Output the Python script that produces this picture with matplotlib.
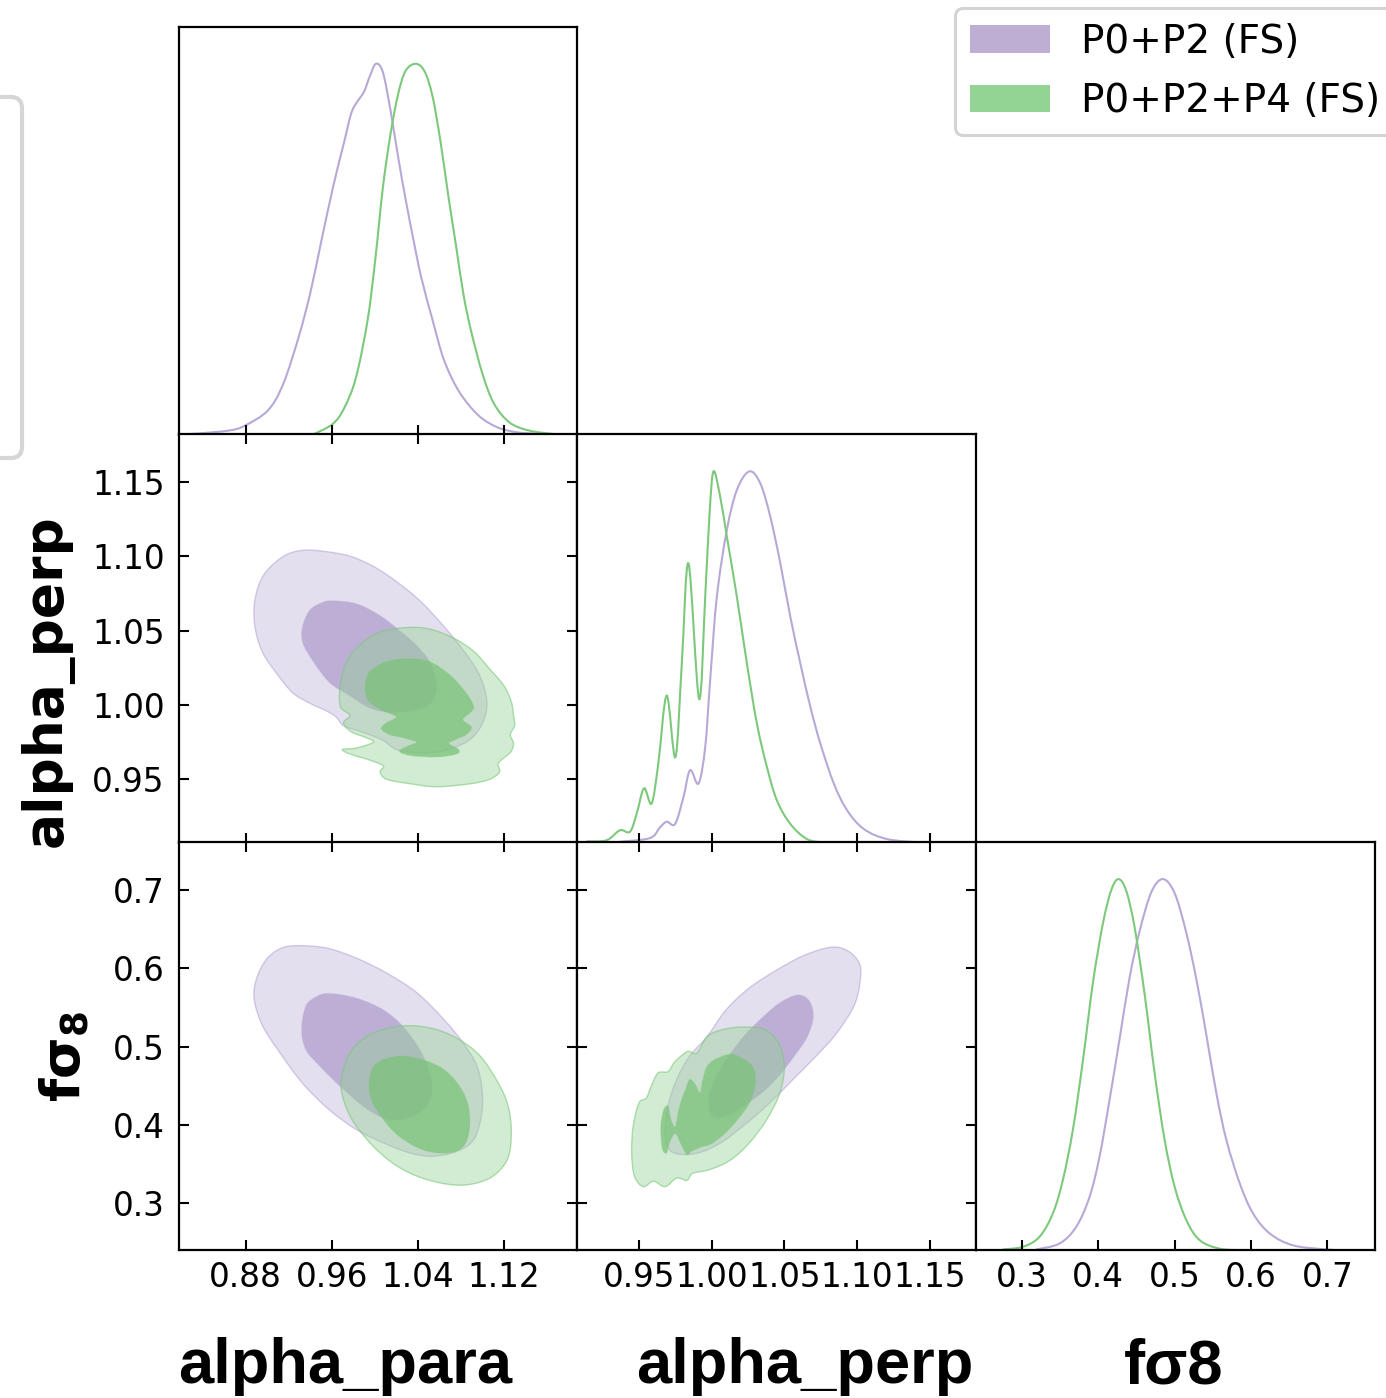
import matplotlib
matplotlib.use("Agg")
import matplotlib.pyplot as plt
import numpy as np
from matplotlib.path import Path
from matplotlib.patches import PathPatch, Patch, FancyBboxPatch

# corner plot: alpha_para, alpha_perp, f sigma8 for two fits

W, H = 1386, 1398

labels = ["P0+P2 (FS)", "P0+P2+P4 (FS)"]
line_colors = ["#b8a8d6", "#7cc97c"]
legend_colors = ["#bfaed4", "#93d394"]

# axis ranges and ticks
para_lim = (0.8176, 1.1882)
perp_lim = (0.9075, 1.1819)
fs8_lim = (0.2398, 0.7615)
para_ticks = [0.88, 0.96, 1.04, 1.12]
perp_ticks = [0.95, 1.00, 1.05, 1.10, 1.15]
fs8_ticks = [0.3, 0.4, 0.5, 0.6, 0.7]

# 1D marginals (normalised to peak = 1)
para_x_a = [0.8187, 0.8365, 0.865, 0.8793, 0.9007, 0.9149, 0.9292, 0.9399, 0.9505, 0.9612,
            0.9719, 0.9791, 0.9897, 0.9951, 1.0011, 1.0076, 1.0147, 1.0218, 1.0289, 1.0361,
            1.0432, 1.0539, 1.0646, 1.0788, 1.0966, 1.1144, 1.1323, 1.1501, 1.168, 1.188]
para_y_a = [0.001, 0.004, 0.012, 0.025, 0.066, 0.137, 0.263, 0.380, 0.524, 0.667,
            0.793, 0.874, 0.923, 0.964, 1.0, 0.977, 0.874, 0.748, 0.632, 0.524,
            0.425, 0.308, 0.200, 0.115, 0.052, 0.020, 0.007, 0.003, 0.0, 0.0]
para_x_b = [0.9434, 0.9612, 0.9719, 0.9826, 0.9933, 1.0004, 1.0076, 1.0147, 1.0218, 1.0289,
            1.0386, 1.0468, 1.0539, 1.061, 1.0681, 1.0753, 1.0824, 1.0895, 1.1002, 1.1109,
            1.1251, 1.143, 1.1679, 1.1857]
para_y_b = [0.002, 0.030, 0.074, 0.155, 0.308, 0.470, 0.667, 0.811, 0.919, 0.982,
            1.0, 0.977, 0.910, 0.793, 0.650, 0.515, 0.380, 0.281, 0.164, 0.084,
            0.034, 0.012, 0.002, 0.0]

perp_x_a = [0.9369, 0.9576, 0.9645, 0.9691, 0.9749, 0.9806, 0.9852, 0.991, 0.9956, 0.999,
            1.0036, 1.0105, 1.0174, 1.0259, 1.0335, 1.0404, 1.0473, 1.0542, 1.0611, 1.068,
            1.0749, 1.0842, 1.0934, 1.1049, 1.121, 1.144]
perp_y_a = [0.002, 0.012, 0.041, 0.056, 0.050, 0.122, 0.195, 0.159, 0.257, 0.437,
            0.662, 0.842, 0.950, 1.0, 0.968, 0.878, 0.752, 0.608, 0.482, 0.365,
            0.266, 0.158, 0.086, 0.036, 0.009, 0.0]
perp_x_b = [0.9139, 0.9277, 0.9369, 0.9438, 0.9484, 0.9535, 0.9587, 0.9633, 0.9691, 0.9751,
            0.9795, 0.9841, 0.9914, 0.9956, 0.9986, 1.0013, 1.0059, 1.0105, 1.0174, 1.0243,
            1.0312, 1.0381, 1.045, 1.0542, 1.0657, 1.0772]
perp_y_b = [0.003, 0.006, 0.033, 0.029, 0.077, 0.146, 0.105, 0.212, 0.396, 0.230,
            0.482, 0.752, 0.387, 0.662, 0.887, 1.0, 0.932, 0.824, 0.662, 0.482,
            0.320, 0.203, 0.113, 0.050, 0.009, 0.0]

fs8_x_a = [0.3188, 0.3493, 0.3712, 0.3887, 0.4017, 0.4148, 0.428, 0.4411, 0.4542, 0.4695,
           0.4847, 0.5, 0.5153, 0.5284, 0.5415, 0.5546, 0.5677, 0.5852, 0.6026, 0.6245,
           0.655, 0.6987, 0.7205]
fs8_y_a = [0.002, 0.018, 0.063, 0.144, 0.252, 0.405, 0.570, 0.735, 0.860, 0.965,
           1.0, 0.962, 0.855, 0.730, 0.580, 0.423, 0.297, 0.180, 0.099, 0.045,
           0.013, 0.002, 0.0]
fs8_x_b = [0.2751, 0.3013, 0.3231, 0.3406, 0.3537, 0.3668, 0.3799, 0.393, 0.4061, 0.417,
           0.4266, 0.4367, 0.4476, 0.4607, 0.4738, 0.4869, 0.5, 0.5153, 0.5328, 0.559, 0.5895]
fs8_y_b = [0.002, 0.009, 0.036, 0.099, 0.189, 0.324, 0.510, 0.720, 0.880, 0.970,
           1.0, 0.968, 0.870, 0.690, 0.477, 0.297, 0.171, 0.081, 0.027, 0.004, 0.0]

# 2D contours (68% inner, 95% outer), (x, y) in parameter units
pp_a_outer = [(0.935, 1.104), (0.955, 1.103), (0.977, 1.100), (0.999, 1.093), (1.020, 1.083),
              (1.042, 1.070), (1.064, 1.053), (1.082, 1.037), (1.096, 1.022), (1.103, 1.008),
              (1.104, 0.997), (1.099, 0.986), (1.089, 0.977), (1.073, 0.971), (1.054, 0.968),
              (1.036, 0.968), (1.020, 0.970), (1.008, 0.976), (0.995, 0.980), (0.983, 0.983),
              (0.971, 0.986), (0.964, 0.992), (0.955, 0.996), (0.940, 1.001), (0.924, 1.008),
              (0.909, 1.021), (0.896, 1.035), (0.889, 1.051), (0.888, 1.067), (0.893, 1.082),
              (0.902, 1.092), (0.918, 1.101)]
pp_a_inner = [(0.961, 1.070), (0.983, 1.068), (1.005, 1.060), (1.023, 1.050), (1.039, 1.040),
              (1.051, 1.029), (1.057, 1.015), (1.056, 1.006), (1.048, 0.999), (1.033, 0.996),
              (1.014, 0.995), (0.995, 0.998), (0.977, 1.006), (0.958, 1.015), (0.943, 1.029),
              (0.933, 1.042), (0.933, 1.053), (0.940, 1.064), (0.952, 1.069)]
pp_b_outer = [(1.030, 1.052), (1.051, 1.051), (1.073, 1.045), (1.092, 1.036), (1.107, 1.024),
              (1.120, 1.013), (1.127, 1.002), (1.129, 0.993), (1.130, 0.986), (1.126, 0.980),
              (1.129, 0.974), (1.126, 0.968), (1.115, 0.961), (1.116, 0.955), (1.107, 0.950),
              (1.089, 0.947), (1.058, 0.945), (1.033, 0.947), (1.011, 0.950), (1.005, 0.955),
              (1.008, 0.959), (0.995, 0.963), (0.977, 0.967), (0.970, 0.970), (0.983, 0.971),
              (0.999, 0.975), (0.992, 0.978), (0.978, 0.982), (0.971, 0.988), (0.977, 0.993),
              (0.968, 0.999), (0.968, 1.013), (0.974, 1.029), (0.986, 1.040), (1.005, 1.049)]
pp_b_inner = [(1.031, 1.031), (1.051, 1.029), (1.070, 1.020), (1.085, 1.008), (1.092, 0.999),
              (1.089, 0.995), (1.082, 0.990), (1.090, 0.985), (1.085, 0.980), (1.076, 0.977),
              (1.069, 0.974), (1.078, 0.970), (1.076, 0.967), (1.058, 0.965), (1.033, 0.966),
              (1.023, 0.969), (1.033, 0.973), (1.039, 0.975), (1.026, 0.978), (1.014, 0.980),
              (1.006, 0.984), (1.011, 0.988), (1.020, 0.992), (1.008, 0.996), (0.995, 1.002),
              (0.991, 1.011), (0.995, 1.022), (1.011, 1.029)]

pf_a_outer = [(0.927, 0.629), (0.955, 0.626), (0.983, 0.613), (1.011, 0.594), (1.039, 0.569),
              (1.064, 0.535), (1.082, 0.505), (1.095, 0.475), (1.100, 0.441), (1.099, 0.411),
              (1.092, 0.381), (1.076, 0.366), (1.054, 0.360), (1.033, 0.364), (1.008, 0.377),
              (0.983, 0.394), (0.958, 0.419), (0.933, 0.453), (0.912, 0.492), (0.896, 0.526),
              (0.888, 0.560), (0.890, 0.586), (0.899, 0.611), (0.912, 0.625)]
pf_a_inner = [(0.958, 0.568), (0.983, 0.562), (1.008, 0.547), (1.026, 0.526), (1.042, 0.496),
              (1.051, 0.466), (1.053, 0.441), (1.045, 0.419), (1.026, 0.407), (1.008, 0.409),
              (0.989, 0.424), (0.968, 0.449), (0.949, 0.475), (0.936, 0.496), (0.932, 0.522),
              (0.936, 0.552), (0.946, 0.564)]
pf_b_outer = [(1.023, 0.526), (1.051, 0.524), (1.076, 0.511), (1.098, 0.488), (1.115, 0.453),
              (1.124, 0.424), (1.127, 0.389), (1.123, 0.355), (1.107, 0.332), (1.082, 0.323),
              (1.054, 0.328), (1.026, 0.343), (1.002, 0.368), (0.981, 0.402), (0.971, 0.432),
              (0.969, 0.458), (0.977, 0.492), (0.995, 0.515)]
pf_b_inner = [(1.023, 0.488), (1.045, 0.483), (1.064, 0.471), (1.079, 0.449), (1.087, 0.424),
              (1.088, 0.394), (1.082, 0.372), (1.067, 0.364), (1.045, 0.368), (1.023, 0.385),
              (1.008, 0.407), (0.997, 0.432), (0.995, 0.458), (1.002, 0.479)]

qf_a_outer = [(1.082, 0.627), (1.094, 0.622), (1.102, 0.605), (1.102, 0.581), (1.098, 0.552),
              (1.086, 0.517), (1.072, 0.488), (1.056, 0.458), (1.040, 0.428), (1.024, 0.402),
              (1.008, 0.379), (0.994, 0.366), (0.981, 0.362), (0.971, 0.368), (0.968, 0.389),
              (0.970, 0.424), (0.976, 0.458), (0.985, 0.488), (0.997, 0.513), (1.010, 0.547),
              (1.026, 0.575), (1.045, 0.598), (1.063, 0.616)]
qf_a_inner = [(1.059, 0.566), (1.067, 0.559), (1.070, 0.539), (1.066, 0.513), (1.057, 0.488),
              (1.047, 0.464), (1.036, 0.443), (1.022, 0.424), (1.010, 0.411), (1.001, 0.411),
              (0.998, 0.428), (1.001, 0.453), (1.010, 0.483), (1.022, 0.513), (1.036, 0.539),
              (1.047, 0.556)]
qf_b_outer = [(1.022, 0.525), (1.036, 0.522), (1.046, 0.505), (1.050, 0.475), (1.047, 0.441),
              (1.038, 0.407), (1.026, 0.377), (1.013, 0.355), (0.999, 0.343), (0.987, 0.338),
              (0.983, 0.329), (0.976, 0.332), (0.968, 0.321), (0.960, 0.328), (0.953, 0.321),
              (0.947, 0.334), (0.945, 0.364), (0.946, 0.398), (0.950, 0.428), (0.955, 0.434),
              (0.958, 0.447), (0.963, 0.466), (0.970, 0.468), (0.974, 0.479), (0.979, 0.488),
              (0.984, 0.494), (0.990, 0.492), (0.997, 0.513), (1.008, 0.522)]
qf_b_inner = [(1.015, 0.490), (1.028, 0.475), (1.030, 0.453), (1.026, 0.428), (1.018, 0.407),
              (1.008, 0.387), (0.999, 0.375), (0.993, 0.372), (0.986, 0.366), (0.983, 0.362),
              (0.979, 0.375), (0.975, 0.389), (0.971, 0.377), (0.969, 0.364), (0.966, 0.370),
              (0.965, 0.398), (0.967, 0.419), (0.970, 0.424), (0.972, 0.407), (0.975, 0.398),
              (0.978, 0.424), (0.982, 0.445), (0.985, 0.458), (0.989, 0.451), (0.992, 0.441),
              (0.994, 0.458), (0.997, 0.475), (1.004, 0.485)]

outer_fill = [("#e4dfee", 1.0), ("#93d394", 0.42)]
inner_fill = [("#bdaed5", 1.0), ("#7ec47c", 0.85)]


def smooth(pts, closed):
    # cubic bezier path through the read points (catmull-rom tangents)
    p = np.asarray(pts, dtype=float)
    n = len(p)
    verts = [p[0]]
    codes = [Path.MOVETO]
    nseg = n if closed else n - 1
    for i in range(nseg):
        if closed:
            p0, p1, p2, p3 = p[(i - 1) % n], p[i], p[(i + 1) % n], p[(i + 2) % n]
        else:
            p0, p1, p2 = p[max(i - 1, 0)], p[i], p[i + 1]
            p3 = p[min(i + 2, n - 1)]
        verts += [p1 + (p2 - p0) / 6, p2 - (p3 - p1) / 6, p2]
        codes += [Path.CURVE4] * 3
    if closed:
        verts.append(p[0])
        codes.append(Path.CLOSEPOLY)
    return Path(np.array(verts), codes)


def orient(pts):
    p = np.asarray(pts)
    return np.sign(np.sum(p[:, 0] * np.roll(p[:, 1], -1) - np.roll(p[:, 0], -1) * p[:, 1]))


def draw_contours(ax, outer, inner, k):
    hole = inner[::-1] if orient(outer) == orient(inner) else inner
    ring = Path.make_compound_path(smooth(outer, True), smooth(hole, True))
    fc, a = outer_fill[k]
    ax.add_patch(PathPatch(ring, fc=fc, alpha=a, ec="none"))
    fc, a = inner_fill[k]
    ax.add_patch(PathPatch(smooth(inner, True), fc=fc, alpha=a, ec="none"))
    ax.add_patch(PathPatch(smooth(outer, True), fill=False, ec=line_colors[k], lw=1.0, alpha=0.6))
    ax.add_patch(PathPatch(smooth(inner, True), fill=False, ec=line_colors[k], lw=0.8, alpha=0.3))


fig = plt.figure(figsize=(W / 100, H / 100), dpi=100)

col_left = [178.5, 577.2, 975.8]
col_w = 398.7
row_top = [26.7, 434.3, 842.0]
row_h = 408.2


def make_ax(r, c):
    return fig.add_axes([col_left[c] / W, 1 - (row_top[r] + row_h) / H, col_w / W, row_h / H])


lims = [para_lim, perp_lim, fs8_lim]
ticks = [para_ticks, perp_ticks, fs8_ticks]
fmts = ["%.2f", "%.2f", "%.1f"]
marg = [[(para_x_a, para_y_a), (para_x_b, para_y_b)],
        [(perp_x_a, perp_y_a), (perp_x_b, perp_y_b)],
        [(fs8_x_a, fs8_y_a), (fs8_x_b, fs8_y_b)]]
cont = {(1, 0): [(pp_a_outer, pp_a_inner), (pp_b_outer, pp_b_inner)],
        (2, 0): [(pf_a_outer, pf_a_inner), (pf_b_outer, pf_b_inner)],
        (2, 1): [(qf_a_outer, qf_a_inner), (qf_b_outer, qf_b_inner)]}

tick_size = 23.5

for r in range(3):
    for c in range(r + 1):
        ax = make_ax(r, c)
        for s in ax.spines.values():
            s.set_linewidth(1.6)
        ax.set_xlim(lims[c])
        ax.set_xticks(ticks[c])
        ax.xaxis.set_major_formatter(matplotlib.ticker.FormatStrFormatter(fmts[c]))
        if r == c:
            for k in range(2):
                xs, ys = marg[r][k]
                ax.add_patch(PathPatch(smooth(list(zip(xs, ys)), False), fill=False,
                                       ec=line_colors[k], lw=1.5))
            ax.set_ylim(0, 1.1)
            ax.set_yticks([])
            ax.tick_params(axis="x", direction="in", length=7, width=1.5,
                           labelsize=tick_size, pad=8, labelbottom=(r == 2))
        else:
            for k in range(2):
                o, i = cont[(r, c)][k]
                draw_contours(ax, o, i, k)
            ax.set_ylim(lims[r])
            ax.set_yticks(ticks[r])
            ax.yaxis.set_major_formatter(matplotlib.ticker.FormatStrFormatter(fmts[r]))
            ax.tick_params(direction="in", length=7, width=1.5, labelsize=tick_size,
                           top=True, right=True, bottom=True, left=True,
                           labelbottom=(r == 2), labelleft=(c == 0))
            ax.tick_params(axis="y", pad=10)
            ax.tick_params(axis="x", pad=8)

# axis titles
for txt, xc in [("alpha_para", 345), ("alpha_perp", 805), ("fσ8", 1174)]:
    fig.text(xc / W, 1 - 1383 / H, txt, fontsize=45.5, fontweight="bold",
             family="Liberation Sans", ha="center", va="baseline")
fig.text(47 / W, 1 - 681 / H, "alpha_perp", rotation=90, fontsize=38.5,
         fontweight="bold", ha="center", va="center")
fig.text(64 / W, 1 - 1056 / H, r"fσ$_\mathbf{8}$", rotation=90, fontsize=38.5,
         fontweight="bold", ha="center", va="center")

# legend
handles = [Patch(facecolor=legend_colors[k], edgecolor="none") for k in range(2)]
leg = fig.legend(handles, labels, loc="upper left", bbox_to_anchor=(955 / W, 1 - 8 / H),
                 bbox_transform=fig.transFigure, fontsize=28, handlelength=2.06,
                 handleheight=0.72, handletextpad=0.8, borderpad=0.38, labelspacing=0.55,
                 borderaxespad=0, frameon=True, fancybox=True, framealpha=1,
                 edgecolor="#d4d4d4")
leg.get_frame().set_linewidth(2.2)

# cut-off box at the left edge
box = FancyBboxPatch((-60 / W, 1 - 458 / H), 82 / W, 361 / H,
                     boxstyle="round,pad=0,rounding_size=0.008",
                     transform=fig.transFigure, fc="white", ec="#d6d6d6", lw=3)
fig.add_artist(box)

fig.savefig("out.png", dpi=100)
